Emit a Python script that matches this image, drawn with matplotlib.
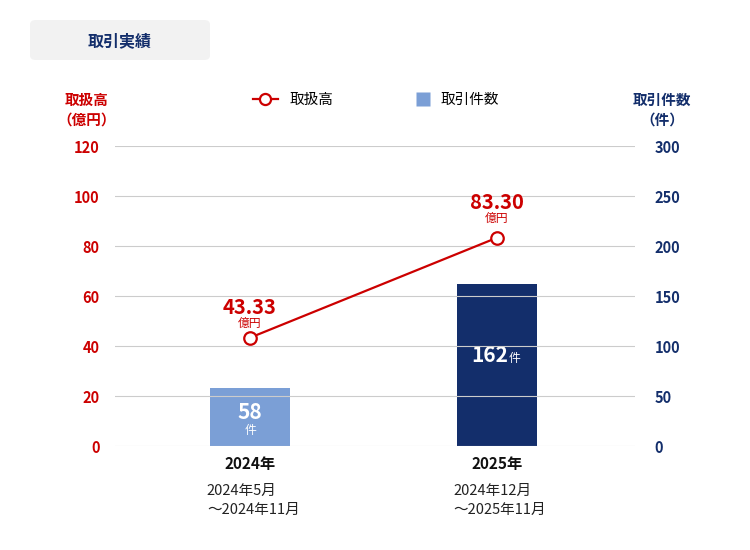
import matplotlib
matplotlib.use("Agg")
import matplotlib.pyplot as plt
from matplotlib.patches import FancyBboxPatch
from matplotlib.lines import Line2D
import numpy as np

plt.rcParams['font.family'] = ['Noto Sans CJK JP', 'DejaVu Sans']

# データ
years = ['2024年', '2025年']
periods = ['2024年5月\n～2024年11月', '2024年12月\n～2025年11月']
amount = [43.33, 83.30]      # 取扱高（億円）
counts = [58, 162]           # 取引件数（件）
bar_colors = ['#7b9fd6', '#132e6b']

RED = '#cc0000'
NAVY = '#132e6b'

fig = plt.figure(figsize=(7.5, 5.5), dpi=100)
ax = fig.add_axes([0.1533, 0.189, 0.6934, 0.5455])
ax2 = ax.twinx()

x = np.arange(len(years))

# 棒グラフ（件数）
ax2.bar(x, counts, width=0.324, color=bar_colors, zorder=2)
ax2.set_ylim(0, 300)
ax2.set_yticks(np.arange(0, 301, 50))

# 折れ線（取扱高）
ax.set_ylim(0, 120)
ax.set_yticks(np.arange(0, 121, 20))
ax.grid(axis='y', color='#cccccc', linewidth=0.8)
ax.set_axisbelow(True)
ax.set_zorder(ax2.get_zorder() + 1)
ax.patch.set_visible(False)
ax.plot(x, amount, color=RED, linewidth=1.6, marker='o', markersize=9,
        markerfacecolor='white', markeredgecolor=RED, markeredgewidth=1.6, zorder=5)
ax.set_xlim(-0.547, 1.56)

for a in (ax, ax2):
    for s in a.spines.values():
        s.set_visible(False)
    a.tick_params(length=0)

ax.tick_params(axis='y', colors=RED, labelsize=10.5, pad=11)
ax2.tick_params(axis='y', colors=NAVY, labelsize=10.5, pad=14)
for t in ax.get_yticklabels():
    t.set_fontweight('bold')
for t in ax2.get_yticklabels():
    t.set_fontweight('bold')

ax.set_xticks(x)
ax.set_xticklabels(years, fontsize=11, fontweight='bold', color='#111111')
ax.tick_params(axis='x', pad=7)

# 期間ラベル
for xi, p in zip(x, periods):
    ax.annotate(p, xy=(xi, 0), xytext=(-31, -27.5), textcoords='offset points',
                ha='left', va='top', fontsize=10.5, color='#222222', linespacing=1.45,
                annotation_clip=False)

# 折れ線の値ラベル
extra = [0, 3.5]
for xi, v, e in zip(x, amount, extra):
    ax.annotate(f'{v:.2f}', xy=(xi, v), xytext=(0, 14 + e), textcoords='offset points',
                ha='center', va='bottom', fontsize=14.5, fontweight='bold', color=RED)
    ax.annotate('億円', xy=(xi, v), xytext=(0, 5.5 + e), textcoords='offset points',
                ha='center', va='bottom', fontsize=8.5, color=RED)

# 棒の値ラベル
ax2.annotate(str(counts[0]), xy=(x[0], counts[0] / 2), xytext=(0, -4),
             textcoords='offset points', ha='center', va='bottom',
             fontsize=15, fontweight='bold', color='white')
ax2.annotate('件', xy=(x[0], counts[0] / 2), xytext=(0, -5),
             textcoords='offset points', ha='center', va='top',
             fontsize=8.5, color='white')
ax2.annotate(str(counts[1]), xy=(x[1], counts[1] / 2), xytext=(8.5, 7),
             textcoords='offset points', ha='right', va='center',
             fontsize=15, fontweight='bold', color='white')
ax2.annotate('件', xy=(x[1], counts[1] / 2), xytext=(8.5, 5),
             textcoords='offset points', ha='left', va='center',
             fontsize=8.5, color='white')

# 軸タイトル
fig.text(87 / 750, 1 - 110 / 550, '取扱高\n（億円）', ha='center', va='center',
         fontsize=10.5, fontweight='bold', color=RED, linespacing=1.3)
fig.text(662 / 750, 1 - 110 / 550, '取引件数\n（件）', ha='center', va='center',
         fontsize=10.5, fontweight='bold', color=NAVY, linespacing=1.3)

# 凡例（2つに分けて配置）
h_line = Line2D([0], [0], color=RED, linewidth=1.6, marker='o', markersize=8,
                markerfacecolor='white', markeredgecolor=RED, markeredgewidth=1.6)
h_bar = Line2D([0], [0], linestyle='none', marker='s', markersize=10,
               markerfacecolor=bar_colors[0], markeredgecolor='none')
fig.legend([h_line], ['取扱高'], loc='center left',
           bbox_to_anchor=(253 / 750, 1 - 100 / 550), frameon=False,
           fontsize=10.5, handlelength=1.71, handletextpad=0.82,
           borderpad=0, borderaxespad=0)
fig.legend([h_bar], ['取引件数'], loc='center left',
           bbox_to_anchor=(416 / 750, 1 - 100 / 550), frameon=False,
           fontsize=10.5, handlelength=0.96, handletextpad=0.69,
           borderpad=0, borderaxespad=0)

# タイトルボックス
box = FancyBboxPatch((30 / 750, 1 - 60 / 550), 180 / 750, 40 / 550,
                     boxstyle='round,pad=0,rounding_size=0.008',
                     transform=fig.transFigure, facecolor='#f2f2f2', edgecolor='none')
fig.add_artist(box)
fig.text(120 / 750, 1 - 41 / 550, '取引実績', ha='center', va='center',
         fontsize=11.5, fontweight='bold', color=NAVY)

fig.savefig('out.png', dpi=100)
